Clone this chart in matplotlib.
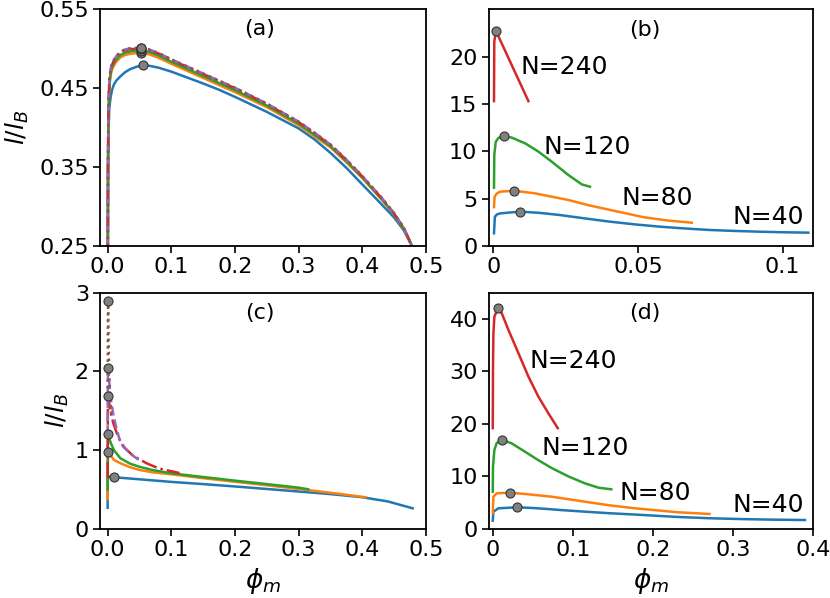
import matplotlib
matplotlib.use("Agg")
import matplotlib.pyplot as plt

# ---- panel (a) ----
pa_x = [0.0002, 0.0006, 0.0012, 0.0025, 0.0035, 0.005, 0.007, 0.01, 0.014, 0.02,
        0.027, 0.035, 0.045, 0.053, 0.065, 0.08, 0.1, 0.125, 0.15, 0.175,
        0.2, 0.25, 0.3, 0.325, 0.35, 0.375, 0.4, 0.43, 0.45, 0.465, 0.478]
pa_blue = [0.20, 0.33, 0.39, 0.423, 0.431, 0.440, 0.448, 0.455, 0.460, 0.465,
           0.470, 0.474, 0.477, 0.479, 0.4785, 0.476, 0.471, 0.4635, 0.456, 0.448,
           0.439, 0.420, 0.399, 0.385, 0.368, 0.349, 0.328, 0.303, 0.286, 0.270, 0.25]
pa_orange = [0.20, 0.35, 0.41, 0.447, 0.458, 0.467, 0.474, 0.479, 0.484, 0.489,
             0.492, 0.4935, 0.4945, 0.4945, 0.493, 0.4885, 0.481, 0.472, 0.463, 0.454,
             0.445, 0.426, 0.403, 0.389, 0.375, 0.356, 0.336, 0.309, 0.290, 0.272, 0.25]
pa_green = [0.20, 0.355, 0.415, 0.451, 0.462, 0.471, 0.477, 0.482, 0.487, 0.492,
            0.495, 0.4965, 0.4975, 0.4975, 0.496, 0.4915, 0.4835, 0.4745, 0.4655, 0.4565,
            0.4475, 0.428, 0.405, 0.391, 0.3765, 0.3575, 0.337, 0.310, 0.2905, 0.2725, 0.25]
pa_red = [0.20, 0.36, 0.42, 0.455, 0.466, 0.474, 0.480, 0.485, 0.490, 0.495,
          0.498, 0.4995, 0.500, 0.500, 0.4985, 0.494, 0.486, 0.477, 0.468, 0.459,
          0.450, 0.430, 0.407, 0.393, 0.378, 0.359, 0.338, 0.311, 0.291, 0.273, 0.25]
pa_purple = [0.20, 0.36, 0.42, 0.456, 0.467, 0.475, 0.481, 0.486, 0.491, 0.496,
             0.499, 0.5005, 0.501, 0.501, 0.499, 0.4945, 0.4865, 0.4775, 0.4685, 0.4595,
             0.4505, 0.4305, 0.4075, 0.3935, 0.3785, 0.3595, 0.3385, 0.3115, 0.2915, 0.273, 0.25]
pa_brown = [0.20, 0.36, 0.42, 0.456, 0.467, 0.475, 0.481, 0.486, 0.491, 0.496,
            0.499, 0.5005, 0.501, 0.501, 0.499, 0.4945, 0.4865, 0.4775, 0.4685, 0.4595,
            0.4505, 0.4305, 0.4075, 0.3935, 0.3785, 0.3595, 0.3385, 0.3115, 0.2915, 0.273, 0.25]
pa_peak_x = [0.055, 0.053, 0.052, 0.052, 0.052, 0.052]
pa_peak_y = [0.479, 0.4945, 0.4975, 0.500, 0.501, 0.501]

# ---- panel (c) ----
pc_blue_x = [0.0, 0.0, 0.003, 0.01, 0.05, 0.1, 0.15, 0.2, 0.25, 0.3, 0.35, 0.4, 0.44, 0.479]
pc_blue_y = [0.27, 0.64, 0.665, 0.657, 0.631, 0.598, 0.570, 0.540, 0.508, 0.476, 0.443,
             0.403, 0.35, 0.263]
pc_orange_x = [0.0, 0.0003, 0.001, 0.003, 0.005, 0.01, 0.02, 0.035, 0.05, 0.07, 0.1,
               0.15, 0.2, 0.25, 0.3, 0.35, 0.405]
pc_orange_y = [0.38, 0.85, 0.975, 0.95, 0.93, 0.877, 0.835, 0.785, 0.75, 0.72, 0.695,
               0.645, 0.60, 0.555, 0.508, 0.46, 0.403]
pc_green_x = [0.0, 0.0003, 0.001, 0.003, 0.005, 0.01, 0.02, 0.035, 0.05, 0.07, 0.1,
              0.15, 0.2, 0.25, 0.3, 0.315]
pc_green_y = [0.5, 1.05, 1.207, 1.14, 1.09, 1.0, 0.898, 0.83, 0.79, 0.75, 0.707,
              0.66, 0.614, 0.57, 0.525, 0.504]
pc_red_x = [0.0, 0.0003, 0.001, 0.004, 0.009, 0.016, 0.0245, 0.04, 0.061, 0.08, 0.103, 0.113]
pc_red_y = [0.65, 1.5, 1.69, 1.5, 1.34, 1.18, 1.046, 0.93, 0.835, 0.77, 0.728, 0.71]
pc_purple_x = [0.0, 0.0003, 0.001, 0.004, 0.009, 0.014, 0.019, 0.027, 0.035, 0.045, 0.052]
pc_purple_y = [1.2, 1.9, 2.05, 1.7, 1.45, 1.27, 1.13, 1.03, 0.96, 0.90, 0.86]
pc_brown_x = [0.0, 0.0003, 0.0008, 0.0015, 0.0025, 0.004, 0.006]
pc_brown_y = [1.7, 2.6, 2.9, 2.4, 2.0, 1.65, 1.43]
pc_peak_x = [0.01, 0.001, 0.001, 0.001, 0.001, 0.001]
pc_peak_y = [0.657, 0.975, 1.207, 1.69, 2.05, 2.90]

# ---- panel (b) ----
pb_blue_x = [0.0002, 0.0005, 0.0013, 0.0025, 0.0092, 0.016, 0.023, 0.0315, 0.0403,
             0.049, 0.0576, 0.0663, 0.0749, 0.0835, 0.0921, 0.1005, 0.1089]
pb_blue_y = [1.34, 3.1, 3.35, 3.45, 3.63, 3.5, 3.27, 2.92, 2.57, 2.28, 2.04, 1.85,
             1.69, 1.59, 1.51, 1.45, 1.41]
pb_orange_x = [0.0002, 0.0004, 0.0012, 0.0023, 0.0072, 0.0144, 0.0259, 0.033, 0.042,
               0.0518, 0.06, 0.0686]
pb_orange_y = [4.1, 5.2, 5.55, 5.74, 5.84, 5.56, 4.86, 4.3, 3.7, 3.05, 2.7, 2.46]
pb_green_x = [0.0002, 0.0003, 0.0008, 0.0017, 0.0035, 0.0064, 0.011, 0.0156, 0.0202,
              0.0259, 0.0306, 0.0334]
pb_green_y = [6.16, 9.6, 11.0, 11.4, 11.65, 11.44, 10.84, 9.96, 8.9, 7.5, 6.5, 6.26]
pb_red_x = [0.0002, 0.0003, 0.0009, 0.0121]
pb_red_y = [15.3, 21.6, 22.7, 15.3]
pb_peak_x = [0.0092, 0.0072, 0.0035, 0.0009]
pb_peak_y = [3.63, 5.84, 11.65, 22.7]
pb_lab_x = [0.0827, 0.0444, 0.0173, 0.0092]
pb_lab_y = [3.1, 5.03, 10.5, 18.9]

# ---- panel (d) ----
pd_blue_x = [0.0, 0.0008, 0.007, 0.0304, 0.05, 0.0737, 0.084, 0.115, 0.146, 0.178,
             0.23, 0.27, 0.313, 0.35, 0.39]
pd_blue_y = [1.59, 3.3, 3.94, 4.13, 4.0, 3.75, 3.62, 3.3, 3.0, 2.75, 2.3, 2.05, 1.88,
             1.78, 1.71]
pd_orange_x = [0.0, 0.0008, 0.005, 0.0216, 0.045, 0.0737, 0.115, 0.146, 0.178, 0.23, 0.2708]
pd_orange_y = [3.0, 6.15, 6.8, 6.92, 6.6, 6.15, 5.2, 4.5, 3.94, 3.2, 2.86]
pd_green_x = [0.0, 0.0003, 0.002, 0.005, 0.012, 0.0237, 0.0404, 0.057, 0.0737, 0.0946,
              0.115, 0.132, 0.148]
pd_green_y = [7.1, 11.9, 15.05, 16.4, 16.95, 16.3, 14.7, 13.1, 11.6, 10.0, 8.7, 7.87, 7.56]
pd_red_x = [0.0, 0.0003, 0.0008, 0.002, 0.0062, 0.0112, 0.0196, 0.032, 0.0446, 0.057,
            0.0696, 0.0812]
pd_red_y = [19.2, 30.9, 37.3, 40.4, 42.0, 41.1, 37.9, 33.5, 29.0, 25.2, 22.0, 19.2]
pd_peak_x = [0.0304, 0.0216, 0.012, 0.0062]
pd_peak_y = [4.13, 6.92, 16.95, 42.0]
pd_lab_x = [0.299, 0.158, 0.0604, 0.0458]
pd_lab_y = [4.57, 6.8, 15.4, 32.0]

n_labels = ["N=40", "N=80", "N=120", "N=240"]
colors = ["#1f77b4", "#ff7f0e", "#2ca02c", "#d62728", "#9467bd", "#8c564b"]
styles = ["-", "-", "-", "-.", "--", ":"]

W, H = 830, 598
fig = plt.figure(figsize=(W / 100, H / 100), dpi=100)


def box(l, t, r, b):
    return [l / W, 1 - b / H, (r - l) / W, (b - t) / H]


def style(ax):
    for s in ax.spines.values():
        s.set_linewidth(1.3)
    ax.tick_params(direction="out", length=5, width=1.2, labelsize=16, pad=3)


mk = dict(ls="none", marker="o", ms=6.5, mfc="gray", mec="#333333", mew=0.8, zorder=5)

# (a)
ax = fig.add_axes(box(100, 9.3, 426, 246))
series_a = [pa_blue, pa_orange, pa_green, pa_red, pa_purple, pa_brown]
for yy, c, ls in zip(series_a, colors, styles):
    ax.plot(pa_x, yy, color=c, ls=ls, lw=1.8)
ax.plot(pa_peak_x, pa_peak_y, **mk)
ax.set_xlim(-0.012, 0.5)
ax.set_ylim(0.25, 0.55)
ax.set_yticks([0.25, 0.35, 0.45, 0.55])
ax.set_xticks([0, 0.1, 0.2, 0.3, 0.4, 0.5])
ax.set_xticklabels(["0.0", "0.1", "0.2", "0.3", "0.4", "0.5"])
ax.set_ylabel(r"$l/l_B$", fontsize=18)
ax.yaxis.set_label_coords(-0.212, 0.5)
ax.text(0.49, 0.917, "(a)", transform=ax.transAxes, ha="center", va="center", fontsize=16)
style(ax)

# (c)
ax = fig.add_axes(box(100, 292.7, 426, 529))
series_c = [(pc_blue_x, pc_blue_y), (pc_orange_x, pc_orange_y), (pc_green_x, pc_green_y),
            (pc_red_x, pc_red_y), (pc_purple_x, pc_purple_y), (pc_brown_x, pc_brown_y)]
for (xx, yy), c, ls in zip(series_c, colors, styles):
    ax.plot(xx, yy, color=c, ls=ls, lw=1.8)
ax.plot(pc_peak_x, pc_peak_y, **mk)
ax.set_xlim(-0.012, 0.5)
ax.set_ylim(0, 3)
ax.set_yticks([0, 1, 2, 3])
ax.set_xticks([0, 0.1, 0.2, 0.3, 0.4, 0.5])
ax.set_xticklabels(["0.0", "0.1", "0.2", "0.3", "0.4", "0.5"])
ax.set_ylabel(r"$l/l_B$", fontsize=18)
ax.yaxis.set_label_coords(-0.09, 0.5)
ax.set_xlabel(r"$\phi_m$", fontsize=19)
ax.text(0.49, 0.915, "(c)", transform=ax.transAxes, ha="center", va="center", fontsize=16)
style(ax)

# (b)
ax = fig.add_axes(box(488.5, 9.3, 813, 246))
series_b = [(pb_blue_x, pb_blue_y), (pb_orange_x, pb_orange_y),
            (pb_green_x, pb_green_y), (pb_red_x, pb_red_y)]
for (xx, yy), c in zip(series_b, colors):
    ax.plot(xx, yy, color=c, lw=1.8)
ax.plot(pb_peak_x, pb_peak_y, **mk)
for lx, ly, t in zip(pb_lab_x, pb_lab_y, n_labels):
    ax.text(lx, ly, t, ha="left", va="center", fontsize=18)
ax.set_xlim(-0.0017, 0.1105)
ax.set_ylim(0, 25)
ax.set_yticks([0, 5, 10, 15, 20])
ax.set_xticks([0, 0.05, 0.1])
ax.set_xticklabels(["0", "0.05", "0.1"])
ax.text(0.482, 0.913, "(b)", transform=ax.transAxes, ha="center", va="center", fontsize=16)
style(ax)

# (d)
ax = fig.add_axes(box(489, 292.7, 813, 529))
series_d = [(pd_blue_x, pd_blue_y), (pd_orange_x, pd_orange_y),
            (pd_green_x, pd_green_y), (pd_red_x, pd_red_y)]
for (xx, yy), c in zip(series_d, colors):
    ax.plot(xx, yy, color=c, lw=1.8)
ax.plot(pd_peak_x, pd_peak_y, **mk)
for lx, ly, t in zip(pd_lab_x, pd_lab_y, n_labels):
    ax.text(lx, ly, t, ha="left", va="center", fontsize=18)
ax.set_xlim(-0.0047, 0.4)
ax.set_ylim(0, 45)
ax.set_yticks([0, 10, 20, 30, 40])
ax.set_xticks([0, 0.1, 0.2, 0.3, 0.4])
ax.set_xticklabels(["0", "0.1", "0.2", "0.3", "0.4"])
ax.set_xlabel(r"$\phi_m$", fontsize=19)
ax.text(0.48, 0.913, "(d)", transform=ax.transAxes, ha="center", va="center", fontsize=16)
style(ax)

fig.savefig("out.png", dpi=100)
